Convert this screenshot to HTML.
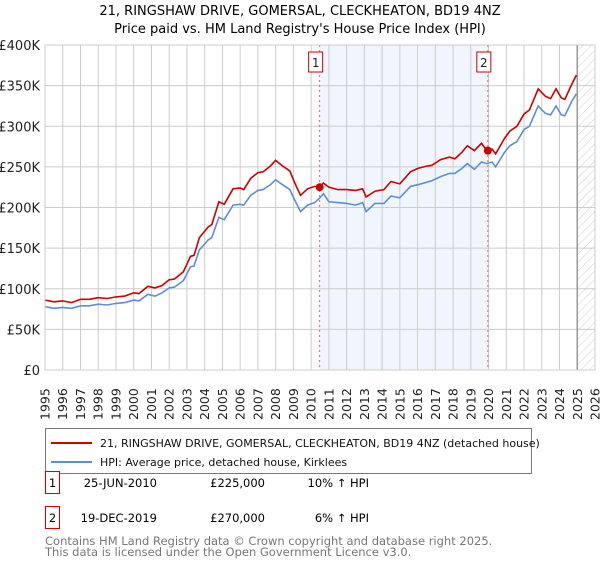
<!DOCTYPE html>
<html><head><meta charset="utf-8"><style>
body{margin:0;background:#fff;font-family:"Liberation Sans","DejaVu Sans",sans-serif;}
svg text{font-family:"DejaVu Sans","Liberation Sans",sans-serif;}
</style></head><body>
<svg id="c" width="600" height="560" xmlns="http://www.w3.org/2000/svg">
<defs><pattern id="hatch" width="6" height="6" patternUnits="userSpaceOnUse" patternTransform="rotate(45)"><line x1="0" y1="0" x2="0" y2="6" stroke="#ccc" stroke-width="1"/></pattern></defs>
<text x="300" y="15" text-anchor="middle" font-size="13">21, RINGSHAW DRIVE, GOMERSAL, CLECKHEATON, BD19 4NZ</text>
<text x="300" y="33" text-anchor="middle" font-size="13">Price paid vs. HM Land Registry's House Price Index (HPI)</text>
<g id="plot"></g>
</svg>
<script>
const dates=[1995.0,1995.5,1996.0,1996.5,1997.0,1997.5,1998.0,1998.5,1999.0,1999.5,2000.0,2000.3,2000.8,2001.2,2001.6,2002.0,2002.3,2002.8,2003.2,2003.4,2003.7,2004.2,2004.4,2004.8,2005.1,2005.6,2006.0,2006.2,2006.6,2007.0,2007.3,2007.7,2008.0,2008.4,2008.8,2009.1,2009.4,2009.8,2010.2,2010.45,2010.7,2011.0,2011.5,2012.0,2012.5,2012.9,2013.1,2013.6,2014.1,2014.5,2015.0,2015.6,2016.0,2016.5,2016.8,2017.3,2017.8,2018.1,2018.5,2018.8,2019.2,2019.6,2019.9,2020.2,2020.4,2020.9,2021.2,2021.6,2022.0,2022.3,2022.8,2023.2,2023.5,2023.8,2024.1,2024.3,2024.7,2024.95];
const hpi=[78,76,77,76,79,79,81,80,82,83,86,85,93,91,95,101,102,110,127,128,148,160,163,188,185,203,204,203,215,221,222,228,234,228,222,208,195,203,206,211,217,207,206,205,203,206,195,205,205,214,212,226,228,231,233,238,242,242,248,254,247,256,254,256,250,268,276,281,296,300,325,316,314,325,314,313,331,340];
const price=[86,84,85,83,87,87,89,88,90,91,95,94,103,101,104,111,112,121,140,141,163,176,179,207,204,223,224,222,236,243,244,251,258,251,245,229,215,223,226,225,230,225,222,222,221,223,213,220,222,232,229,244,248,251,252,259,262,260,268,276,270,279,270,272,266,285,294,300,315,320,346,337,334,346,335,333,352,363];
const saleDates=[2010.48,2019.96];
const salePrices=[225,270];
const saleLabels=["1","2"];
const yTicks=[0,50,100,150,200,250,300,350,400];
const yTickLabels=["£0","£50K","£100K","£150K","£200K","£250K","£300K","£350K","£400K"];
const years=[];for(let y=1995;y<=2026;y++)years.push(y);

const L=45,R=595,T=45,B=370,X0=1995,X1=2026;
const xs=v=>L+(v-X0)/(X1-X0)*(R-L);
const ys=v=>B-v/400*(B-T);
const NS="http://www.w3.org/2000/svg";
const g=document.getElementById('plot');
function mk(t,a){const e=document.createElementNS(NS,t);for(const k in a)e.setAttribute(k,a[k]);g.appendChild(e);return e;}

let e=mk('rect',{x:xs(saleDates[0]),y:T,width:xs(saleDates[1])-xs(saleDates[0]),height:B-T,fill:'#eef2fc',opacity:0.8});


e=mk('rect',{x:xs(2025.0),y:T,width:R-xs(2025.0),height:B-T,fill:'url(#hatch)'});



years.forEach(y=>{const x=xs(y);
 let l=mk('line',{x1:x,y1:T,x2:x,y2:B,stroke:'#ccc','stroke-width':1});
 
 
 let t=mk('text',{transform:`translate(${x+4.5},420) rotate(-90)`,'font-size':12.5,fill:'#222'});
 t.textContent=y;
 
 
});
yTicks.forEach((v,i)=>{const y=ys(v);
 let l=mk('line',{x1:L,y1:y,x2:R,y2:y,stroke:'#ccc','stroke-width':1});
 
 
 let t=mk('text',{x:40,y:y+5,'text-anchor':'end','font-size':13,fill:'#222'});
 t.textContent=yTickLabels[i];
 
 
});
e=mk('line',{x1:xs(2025.0),y1:T,x2:xs(2025.0),y2:B,stroke:'#999','stroke-width':1.5});



saleDates.forEach((d,i)=>{const x=xs(d);
 let l=mk('line',{x1:x,y1:T,x2:x,y2:B,stroke:'#f06060','stroke-width':1,'stroke-dasharray':'2,3'});
 
 
 let r=mk('rect',{x:x-11,y:52,width:14,height:20,fill:'#fff',stroke:'#c00','stroke-width':1});
 
 
 let t=mk('text',{x:x-4,y:67,'text-anchor':'middle','font-size':12,fill:'#222'});
 t.textContent=saleLabels[i];
 
 
});

const pts=a=>dates.map((d,i)=>xs(d).toFixed(1)+','+ys(a[i]).toFixed(1)).join(' ');
e=mk('polyline',{points:pts(hpi),fill:'none',stroke:'#5b8fd6','stroke-width':1.6});


e=mk('polyline',{points:pts(price),fill:'none',stroke:'#cc0000','stroke-width':1.6});


saleDates.forEach((d,i)=>{
 let c=mk('circle',{cx:xs(d),cy:ys(salePrices[i]),r:4,fill:'#cc0000'});
 
 
});
e=mk('rect',{x:L,y:T,width:R-L,height:B-T,fill:'none',stroke:'#ccc','stroke-width':1});



e=mk('rect',{x:45.5,y:428.5,width:486,height:45,fill:'#fff',stroke:'#777','stroke-width':1});


e=mk('line',{x1:51,y1:443,x2:92,y2:443,stroke:'#cc0000','stroke-width':2});


e=mk('text',{x:100,y:447,'font-size':11,fill:'#111'});e.textContent='21, RINGSHAW DRIVE, GOMERSAL, CLECKHEATON, BD19 4NZ (detached house)';


e=mk('line',{x1:51,y1:462,x2:92,y2:462,stroke:'#5b8fd6','stroke-width':2});


e=mk('text',{x:100,y:466,'font-size':11,fill:'#111'});e.textContent='HPI: Average price, detached house, Kirklees';



const rowDate=["25-JUN-2010","19-DEC-2019"],rowPrice=["£225,000","£270,000"],rowHpi=["10% ↑ HPI","6% ↑ HPI"];
[0,1].forEach(i=>{const y=483+i*35;
 let r=mk('rect',{x:45.5,y:y-11.5,width:14,height:22,fill:'#fff',stroke:'#c00','stroke-width':1});
 
 
 let t=mk('text',{x:52.5,y:y+4,'text-anchor':'middle','font-size':11.5});t.textContent=saleLabels[i];
 
 
 t=mk('text',{x:157,y:y+4,'text-anchor':'end','font-size':11.5});t.textContent=rowDate[i];
 
 
 t=mk('text',{x:265,y:y+4,'text-anchor':'end','font-size':11.5});t.textContent=rowPrice[i];
 
 
 t=mk('text',{x:369,y:y+4,'text-anchor':'end','font-size':11.5});t.textContent=rowHpi[i];
 
 
});
e=mk('text',{x:45,y:545,'font-size':11.5,fill:'#777'});e.textContent='Contains HM Land Registry data © Crown copyright and database right 2025.';


e=mk('text',{x:45,y:556,'font-size':11.5,fill:'#777'});e.textContent='This data is licensed under the Open Government Licence v3.0.';


</script>
</body></html>
